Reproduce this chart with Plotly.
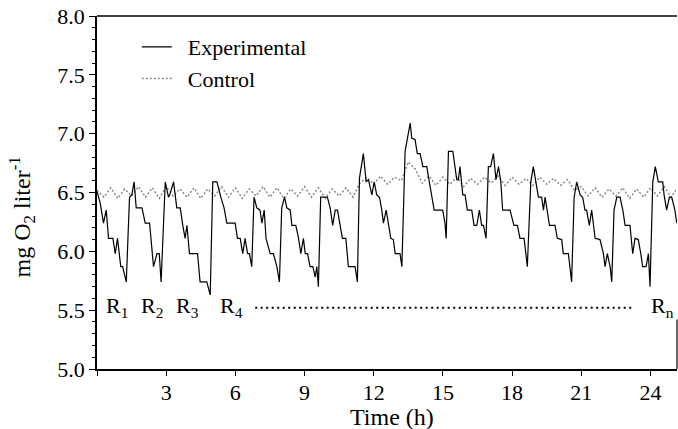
import plotly.graph_objects as go

# ---- Experimental series (time in h, mg O2 / l) ----
exp_time = [0.0, 0.14, 0.28, 0.40, 0.50, 0.69, 0.79, 0.89, 1.03, 1.11, 1.27, 1.41, 1.51, 1.61, 1.70,
            1.95, 2.09, 2.28, 2.45, 2.60, 2.70, 2.78, 2.96, 3.10, 3.17, 3.32, 3.46, 3.61, 3.72, 3.82,
            3.90, 4.01, 4.36, 4.47, 4.76, 4.91, 5.02, 5.20, 5.37, 5.51, 5.63, 5.99, 6.09, 6.21, 6.32,
            6.42, 6.53, 6.61, 6.71, 6.81, 6.93, 7.07, 7.15, 7.25, 7.33, 7.51, 7.65, 7.80, 7.91, 8.01,
            8.13, 8.23, 8.38, 8.45, 8.62, 8.74, 8.84, 8.95, 9.03, 9.13, 9.24, 9.36, 9.46, 9.53, 9.60,
            9.70, 9.99, 10.11, 10.22, 10.33, 10.43, 10.54, 10.64, 10.79, 10.90, 11.19, 11.29, 11.38,
            11.55, 11.67, 11.77, 11.92, 12.02, 12.13, 12.25, 12.35, 12.42, 12.54, 12.64, 12.74, 12.85,
            12.93, 13.14, 13.22, 13.36, 13.46, 13.58, 13.65, 13.79, 13.89, 14.01, 14.13, 14.30, 14.41,
            14.52, 14.62, 14.99, 15.09, 15.14, 15.24, 15.43, 15.53, 15.60, 15.67, 15.74, 15.86, 15.96,
            16.06, 16.25, 16.35, 16.47, 16.58, 16.68, 16.76, 16.87, 16.97, 17.07, 17.19, 17.30, 17.41,
            17.51, 17.59, 17.91, 18.08, 18.23, 18.34, 18.52, 18.66, 18.81, 18.92, 19.04, 19.14, 19.28,
            19.36, 19.43, 19.62, 19.86, 19.96, 20.15, 20.22, 20.44, 20.58, 20.69, 20.80, 20.95, 21.06,
            21.16, 21.23, 21.35, 21.45, 21.60, 21.81, 21.96, 22.03, 22.13, 22.25, 22.32, 22.42, 22.54,
            22.68, 22.80, 22.90, 23.11, 23.23, 23.33, 23.47, 23.58, 23.66, 23.81, 23.91, 23.98, 24.10,
            24.21, 24.34, 24.53, 24.59, 24.70, 24.82, 24.92, 25.06, 25.14]
exp_value = [6.51, 6.41, 6.24, 6.35, 6.11, 6.11, 5.98, 6.11, 5.87, 5.87, 5.74, 6.46, 6.48, 6.59, 6.37,
             6.37, 6.24, 6.24, 5.87, 5.98, 5.98, 5.74, 6.59, 6.46, 6.49, 6.59, 6.37, 6.37, 6.22, 6.11,
             6.22, 5.98, 5.98, 5.74, 5.74, 5.63, 6.59, 6.59, 6.46, 6.37, 6.24, 6.24, 6.11, 6.11, 5.98,
             6.11, 5.98, 5.98, 5.87, 6.46, 6.37, 6.35, 6.24, 6.35, 6.11, 5.98, 5.98, 5.87, 5.74, 6.37,
             6.46, 6.37, 6.35, 6.22, 6.22, 6.11, 5.98, 6.11, 5.98, 5.98, 5.87, 5.87, 5.78, 5.87, 5.70,
             6.46, 6.46, 6.37, 6.22, 6.35, 6.35, 6.22, 6.11, 6.11, 5.87, 5.87, 5.74, 6.62,
             6.83, 6.59, 6.61, 6.48, 6.59, 6.48, 6.46, 6.35, 6.24, 6.35, 6.22, 6.11, 6.10,
             5.98, 5.98, 5.87, 6.85, 6.97, 7.09, 6.96, 6.95, 6.83, 6.83, 6.72, 6.72, 6.59,
             6.48, 6.35, 6.35, 6.24, 6.11, 6.85, 6.85, 6.72, 6.61, 6.61, 6.72, 6.48, 6.48,
             6.35, 6.35, 6.22, 6.22, 6.35, 6.22, 6.22, 6.11, 6.72, 6.72, 6.83, 6.61, 6.72,
             6.59, 6.35, 6.35, 6.22, 6.22, 6.11, 6.11, 5.87, 6.59, 6.72, 6.59, 6.46, 6.46,
             6.35, 6.46, 6.22, 6.22, 6.11, 6.10, 5.98, 5.98, 5.74, 6.46, 6.59, 6.48, 6.46,
             6.35, 6.35, 6.22, 6.35, 6.11, 6.10, 5.98, 5.87, 5.98, 5.87, 5.74, 6.35, 6.46,
             6.46, 6.35, 6.22, 6.22, 5.98, 6.11, 6.10, 5.98, 5.87, 5.87, 5.98, 5.70, 6.59,
             6.72, 6.59, 6.59, 6.48, 6.35, 6.46, 6.46, 6.35, 6.24]

# ---- Control series ----
ctrl_time = [0.0, 0.3, 0.6, 0.9, 1.2, 1.5, 1.8, 2.1, 2.4, 2.7, 3.0, 3.3, 3.6, 3.9, 4.2, 4.5, 4.8,
             5.1, 5.4, 5.7, 6.0, 6.3, 6.6, 6.9, 7.2, 7.5, 7.8, 8.1, 8.4, 8.7, 9.0, 9.3, 9.6, 9.9,
             10.2, 10.5, 10.8, 11.1, 11.4, 11.7, 12.0, 12.3, 12.6, 12.9, 13.2, 13.5, 13.8, 14.1,
             14.4, 14.7, 15.0, 15.3, 15.6, 15.9, 16.2, 16.5, 16.8, 17.1, 17.4, 17.7, 18.0, 18.3,
             18.6, 18.9, 19.2, 19.5, 19.8, 20.1, 20.4, 20.7, 21.0, 21.3, 21.6, 21.9, 22.2, 22.5,
             22.8, 23.1, 23.4, 23.7, 24.0, 24.3, 24.6, 24.9, 25.1]
ctrl_value = [6.52, 6.46, 6.54, 6.45, 6.53, 6.47, 6.55, 6.46, 6.54, 6.45, 6.55, 6.47, 6.53, 6.46,
              6.54, 6.45, 6.53, 6.47, 6.55, 6.46, 6.54, 6.45, 6.53, 6.47, 6.55, 6.46, 6.54, 6.45,
              6.53, 6.47, 6.55, 6.46, 6.54, 6.45, 6.53, 6.47, 6.54, 6.46, 6.58, 6.63, 6.57, 6.64,
              6.57, 6.63, 6.60, 6.76, 6.70, 6.58, 6.64, 6.56, 6.63, 6.57, 6.63, 6.55, 6.62, 6.57,
              6.63, 6.58, 6.64, 6.56, 6.63, 6.57, 6.62, 6.56, 6.63, 6.57, 6.62, 6.56, 6.61, 6.52,
              6.55, 6.47, 6.54, 6.46, 6.53, 6.47, 6.54, 6.45, 6.53, 6.46, 6.54, 6.47, 6.55, 6.46, 6.52]

# ---- Run labels ----
run_labels = ["R<sub>1</sub>", "R<sub>2</sub>", "R<sub>3</sub>", "R<sub>4</sub>", "R<sub>n</sub>"]
run_label_time = [0.88, 2.40, 3.91, 5.82, 24.54]
run_label_level = 5.53
ellipsis_time = [6.86, 23.24]
ellipsis_level = [5.52, 5.52]

x_ticks = [0, 3, 6, 9, 12, 15, 18, 21, 24]
x_tick_text = ["", "3", "6", "9", "12", "15", "18", "21", "24"]
y_ticks = [5.0, 5.5, 6.0, 6.5, 7.0, 7.5, 8.0]
y_tick_text = ["5.0", "5.5", "6.0", "6.5", "7.0", "7.5", "8.0"]

SERIF = "Liberation Serif"
NB = "\u00a0"

fig = go.Figure()
fig.add_trace(go.Scatter(x=ctrl_time, y=ctrl_value, mode="lines", name=NB * 2 + "Control",
                         line=dict(color="#8a8a8a", width=1.5, dash="2px,2px")))
fig.add_trace(go.Scatter(x=exp_time, y=exp_value, mode="lines", name=NB * 2 + "Experimental",
                         line=dict(color="black", width=1.2)))
fig.add_trace(go.Scatter(x=ellipsis_time, y=ellipsis_level, mode="lines", showlegend=False,
                         line=dict(color="black", width=2, dash="2px,3.5px"), hoverinfo="skip"))

for txt, tx in zip(run_labels, run_label_time):
    fig.add_annotation(x=tx, y=run_label_level, text=txt, showarrow=False,
                       xanchor="center", yanchor="middle",
                       font=dict(family=SERIF, size=22, color="black"))

fig.add_annotation(xref="paper", yref="paper", x=-0.129, y=0.43, textangle=-90,
                   text="mg O<sub>2</sub> liter<sup>-1</sup>", showarrow=False,
                   xanchor="center", yanchor="middle",
                   font=dict(family=SERIF, size=24, color="black"))
fig.add_annotation(xref="paper", yref="paper", x=0.509, y=-0.136, text="Time (h)",
                   showarrow=False, xanchor="center", yanchor="middle",
                   font=dict(family=SERIF, size=24, color="black"))

# partial right frame edge (visible only near the bottom in the reference)
fig.add_shape(type="line", xref="paper", yref="y", x0=1, x1=1, y0=5.0, y1=5.42,
              line=dict(color="black", width=1.2))
# top frame line
fig.add_shape(type="line", xref="paper", yref="paper", x0=0, x1=1, y0=1, y1=1,
              line=dict(color="black", width=1.5))

fig.update_layout(
    width=678, height=429,
    margin=dict(l=97, r=1, t=16, b=60, autoexpand=False),
    paper_bgcolor="white", plot_bgcolor="white",
    font=dict(family=SERIF, color="black"),
    showlegend=True,
    legend=dict(x=0.0686, y=0.9715, xanchor="left", yanchor="top",
                bgcolor="rgba(0,0,0,0)", borderwidth=0,
                font=dict(family=SERIF, size=22, color="black"),
                traceorder="reversed", itemwidth=30),
    xaxis=dict(range=[0, 25.15], tickvals=x_ticks, ticktext=x_tick_text,
               ticks="outside", ticklen=5, tickwidth=1.2, tickcolor="black",
               showline=True, linecolor="black", linewidth=1.5, mirror=False,
               showgrid=False, zeroline=False,
               tickfont=dict(family=SERIF, size=22, color="black"), ticklabelstandoff=-2),
    yaxis=dict(range=[5.0, 8.0], tickvals=y_ticks, ticktext=y_tick_text,
               ticks="outside", ticklen=6, tickwidth=1.2, tickcolor="black",
               minor=dict(dtick=0.1, ticks="outside", ticklen=3, tickcolor="black", tickwidth=1),
               showline=True, linecolor="black", linewidth=1.5, mirror=False,
               showgrid=False, zeroline=False,
               tickfont=dict(family=SERIF, size=22, color="black")),
)

fig.write_html("out.html", config={"displayModeBar": False},
               post_script="document.body.style.margin='0';document.body.style.overflow='hidden';")
